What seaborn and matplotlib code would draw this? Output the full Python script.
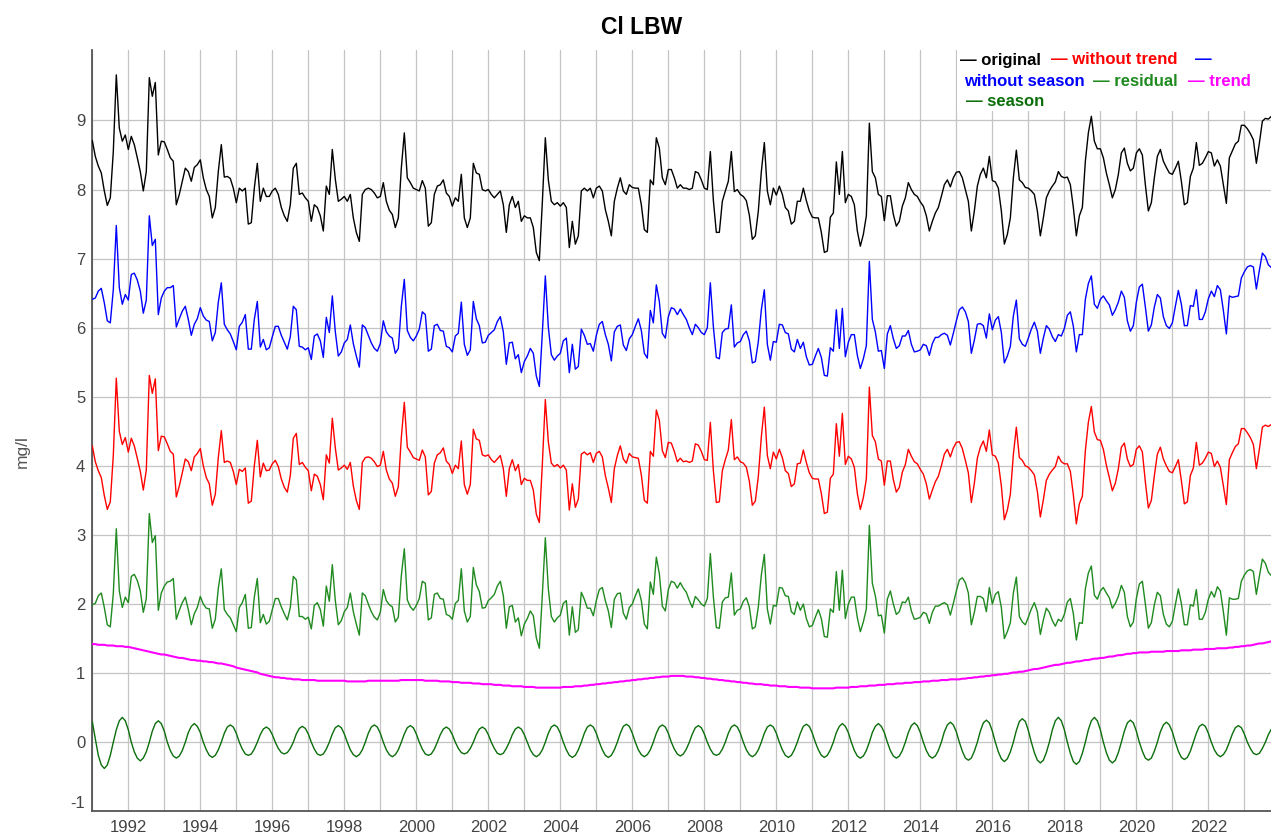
import numpy as np
import matplotlib
matplotlib.use("Agg")
import matplotlib.pyplot as plt
from matplotlib.patches import Rectangle
from matplotlib.ticker import FixedLocator, MultipleLocator
import seaborn as sns

# Monthly chloride series (mg/l), January 1991 onwards
start_year = 1991

original = [
    8.71, 8.48, 8.34, 8.24, 7.98, 7.77, 7.88, 8.55, 9.66, 8.89, 8.70, 8.79,  # 1991
    8.58, 8.77, 8.65, 8.46, 8.26, 7.98, 8.26, 9.62, 9.35, 9.55, 8.50, 8.70,  # 1992
    8.69, 8.58, 8.46, 8.41, 7.78, 7.93, 8.12, 8.31, 8.26, 8.12, 8.32, 8.36,  # 1993
    8.43, 8.17, 8.00, 7.90, 7.59, 7.74, 8.26, 8.65, 8.18, 8.19, 8.16, 8.02,  # 1994
    7.81, 8.02, 7.98, 8.02, 7.50, 7.52, 8.02, 8.38, 7.83, 8.02, 7.90, 7.90,  # 1995
    7.98, 8.02, 7.93, 7.74, 7.62, 7.54, 7.78, 8.31, 8.38, 7.93, 7.95, 7.88,  # 1996
    7.83, 7.54, 7.78, 7.74, 7.62, 7.40, 8.05, 7.93, 8.58, 8.15, 7.83, 7.86,  # 1997
    7.90, 7.83, 7.93, 7.59, 7.38, 7.25, 7.93, 8.00, 8.02, 8.00, 7.95, 7.88,  # 1998
    7.90, 8.10, 7.83, 7.70, 7.64, 7.45, 7.59, 8.31, 8.82, 8.17, 8.10, 8.02,  # 1999
    8.00, 7.98, 8.13, 8.02, 7.47, 7.52, 7.93, 8.05, 8.07, 8.14, 7.95, 7.90,  # 2000
    7.76, 7.88, 7.83, 8.22, 7.59, 7.45, 7.59, 8.38, 8.24, 8.22, 8.00, 7.98,  # 2001
    8.00, 7.93, 7.88, 7.93, 7.98, 7.78, 7.38, 7.78, 7.90, 7.74, 7.83, 7.54,  # 2002
    7.62, 7.59, 7.59, 7.45, 7.09, 6.97, 7.81, 8.75, 8.14, 7.83, 7.78, 7.81,  # 2003
    7.76, 7.81, 7.74, 7.16, 7.54, 7.21, 7.33, 7.98, 8.02, 7.98, 8.02, 7.88,  # 2004
    8.02, 8.05, 7.98, 7.71, 7.54, 7.33, 7.83, 8.02, 8.17, 7.98, 7.93, 8.07,  # 2005
    8.03, 8.02, 8.02, 7.78, 7.42, 7.38, 8.14, 8.07, 8.75, 8.60, 8.17, 8.07,  # 2006
    8.29, 8.29, 8.17, 8.02, 8.07, 8.02, 8.02, 8.00, 8.02, 8.26, 8.24, 8.14,  # 2007
    8.02, 8.00, 8.55, 7.85, 7.38, 7.38, 7.83, 7.98, 8.12, 8.55, 7.97, 8.00,  # 2008
    7.93, 7.90, 7.84, 7.63, 7.28, 7.33, 7.69, 8.26, 8.68, 7.98, 7.78, 8.02,  # 2009
    7.92, 8.05, 7.93, 7.74, 7.69, 7.50, 7.54, 7.83, 7.83, 8.02, 7.84, 7.69,  # 2010
    7.60, 7.59, 7.59, 7.38, 7.09, 7.11, 7.60, 7.66, 8.40, 7.93, 8.55, 7.81,  # 2011
    7.93, 7.90, 7.78, 7.40, 7.18, 7.35, 7.62, 8.96, 8.26, 8.17, 7.93, 7.90,  # 2012
    7.55, 7.91, 7.91, 7.64, 7.47, 7.54, 7.76, 7.88, 8.10, 8.00, 7.93, 7.90,  # 2013
    7.82, 7.76, 7.62, 7.40, 7.54, 7.66, 7.74, 7.90, 8.07, 8.14, 8.04, 8.17,  # 2014
    8.25, 8.26, 8.17, 8.00, 7.83, 7.40, 7.69, 8.05, 8.22, 8.31, 8.17, 8.48,  # 2015
    8.13, 8.11, 8.02, 7.69, 7.21, 7.35, 7.59, 8.17, 8.57, 8.14, 8.10, 8.03,  # 2016
    8.02, 7.98, 7.93, 7.69, 7.33, 7.59, 7.88, 7.98, 8.05, 8.11, 8.26, 8.19,  # 2017
    8.17, 8.18, 8.07, 7.74, 7.33, 7.62, 7.74, 8.41, 8.82, 9.06, 8.70, 8.59,  # 2018
    8.59, 8.46, 8.24, 8.07, 7.88, 8.00, 8.22, 8.53, 8.60, 8.38, 8.27, 8.31,  # 2019
    8.53, 8.59, 8.50, 8.07, 7.69, 7.81, 8.17, 8.48, 8.58, 8.41, 8.32, 8.24,  # 2020
    8.22, 8.31, 8.41, 8.12, 7.78, 7.81, 8.19, 8.31, 8.68, 8.35, 8.38, 8.46,  # 2021
    8.55, 8.53, 8.34, 8.43, 8.34, 8.07, 7.80, 8.46, 8.56, 8.66, 8.70, 8.93,  # 2022
    8.93, 8.88, 8.81, 8.72, 8.38, 8.67, 8.99, 9.03, 9.02, 9.06,              # 2023
]

# Trend component, drawn shifted down by the offset below
trend = [
    1.42, 1.42, 1.41, 1.41, 1.41, 1.40, 1.40, 1.40, 1.39, 1.39, 1.39, 1.38,
    1.38, 1.37, 1.36, 1.35, 1.34, 1.33, 1.32, 1.31, 1.30, 1.29, 1.28, 1.27,
    1.27, 1.26, 1.25, 1.24, 1.23, 1.22, 1.22, 1.21, 1.20, 1.19, 1.19, 1.18,
    1.18, 1.17, 1.17, 1.16, 1.16, 1.15, 1.14, 1.14, 1.13, 1.12, 1.11, 1.10,
    1.08, 1.07, 1.06, 1.05, 1.04, 1.03, 1.02, 1.01, 0.99, 0.98, 0.97, 0.96,
    0.95, 0.94, 0.94, 0.93, 0.93, 0.92, 0.92, 0.91, 0.91, 0.91, 0.90, 0.90,
    0.90, 0.90, 0.90, 0.89, 0.89, 0.89, 0.89, 0.89, 0.89, 0.89, 0.89, 0.89,
    0.89, 0.88, 0.88, 0.88, 0.88, 0.88, 0.88, 0.88, 0.89, 0.89, 0.89, 0.89,
    0.89, 0.89, 0.89, 0.89, 0.89, 0.89, 0.89, 0.90, 0.90, 0.90, 0.90, 0.90,
    0.90, 0.90, 0.90, 0.89, 0.89, 0.89, 0.89, 0.89, 0.88, 0.88, 0.88, 0.88,
    0.87, 0.87, 0.87, 0.86, 0.86, 0.86, 0.86, 0.85, 0.85, 0.85, 0.84, 0.84,
    0.84, 0.84, 0.83, 0.83, 0.83, 0.82, 0.82, 0.82, 0.81, 0.81, 0.81, 0.81,
    0.80, 0.80, 0.80, 0.80, 0.79, 0.79, 0.79, 0.79, 0.79, 0.79, 0.79, 0.79,
    0.79, 0.80, 0.80, 0.80, 0.80, 0.81, 0.81, 0.81, 0.82, 0.82, 0.83, 0.83,
    0.84, 0.84, 0.85, 0.85, 0.86, 0.86, 0.87, 0.87, 0.88, 0.88, 0.89, 0.89,
    0.90, 0.90, 0.91, 0.91, 0.92, 0.92, 0.93, 0.93, 0.94, 0.94, 0.95, 0.95,
    0.95, 0.96, 0.96, 0.96, 0.96, 0.96, 0.95, 0.95, 0.95, 0.94, 0.94, 0.93,
    0.93, 0.92, 0.92, 0.91, 0.91, 0.90, 0.90, 0.89, 0.89, 0.88, 0.88, 0.87,
    0.87, 0.86, 0.86, 0.85, 0.85, 0.84, 0.84, 0.84, 0.83, 0.83, 0.82, 0.82,
    0.82, 0.81, 0.81, 0.81, 0.80, 0.80, 0.80, 0.80, 0.79, 0.79, 0.79, 0.79,
    0.78, 0.78, 0.78, 0.78, 0.78, 0.78, 0.78, 0.78, 0.79, 0.79, 0.79, 0.79,
    0.79, 0.80, 0.80, 0.80, 0.81, 0.81, 0.81, 0.82, 0.82, 0.82, 0.83, 0.83,
    0.83, 0.84, 0.84, 0.84, 0.85, 0.85, 0.85, 0.86, 0.86, 0.86, 0.87, 0.87,
    0.87, 0.88, 0.88, 0.88, 0.89, 0.89, 0.89, 0.90, 0.90, 0.90, 0.91, 0.91,
    0.91, 0.91, 0.92, 0.92, 0.93, 0.93, 0.94, 0.94, 0.95, 0.95, 0.96, 0.96,
    0.97, 0.97, 0.98, 0.98, 0.99, 0.99, 1.00, 1.01, 1.01, 1.02, 1.02, 1.03,
    1.04, 1.05, 1.06, 1.06, 1.07, 1.08, 1.09, 1.10, 1.11, 1.12, 1.12, 1.13,
    1.14, 1.15, 1.15, 1.16, 1.17, 1.17, 1.18, 1.19, 1.19, 1.20, 1.21, 1.21,
    1.22, 1.22, 1.23, 1.24, 1.24, 1.25, 1.26, 1.26, 1.27, 1.28, 1.28, 1.29,
    1.29, 1.30, 1.30, 1.30, 1.30, 1.31, 1.31, 1.31, 1.31, 1.31, 1.32, 1.32,
    1.32, 1.32, 1.32, 1.33, 1.33, 1.33, 1.33, 1.34, 1.34, 1.34, 1.34, 1.35,
    1.35, 1.35, 1.35, 1.36, 1.36, 1.36, 1.36, 1.37, 1.37, 1.38, 1.38, 1.39,
    1.39, 1.40, 1.40, 1.41, 1.42, 1.43, 1.43, 1.44, 1.45, 1.46,
]

# Seasonal component
season = [
    0.30, 0.05, -0.19, -0.33, -0.38, -0.33, -0.19, 0.00, 0.18, 0.31, 0.36, 0.31,
    0.18, 0.00, -0.14, -0.23, -0.27, -0.23, -0.14, 0.00, 0.16, 0.27, 0.31, 0.27,
    0.16, 0.00, -0.12, -0.20, -0.23, -0.20, -0.12, 0.00, 0.14, 0.23, 0.27, 0.23,
    0.14, 0.00, -0.11, -0.19, -0.22, -0.19, -0.11, 0.00, 0.13, 0.22, 0.25, 0.22,
    0.13, 0.00, -0.10, -0.17, -0.19, -0.17, -0.10, 0.00, 0.11, 0.19, 0.22, 0.19,
    0.11, 0.00, -0.09, -0.15, -0.17, -0.15, -0.09, 0.00, 0.12, 0.20, 0.23, 0.20,
    0.12, 0.00, -0.10, -0.17, -0.19, -0.17, -0.10, 0.00, 0.12, 0.21, 0.24, 0.21,
    0.12, 0.00, -0.11, -0.18, -0.21, -0.18, -0.11, 0.00, 0.13, 0.22, 0.25, 0.22,
    0.13, 0.00, -0.11, -0.18, -0.21, -0.18, -0.11, 0.00, 0.12, 0.21, 0.24, 0.21,
    0.12, 0.00, -0.10, -0.17, -0.19, -0.17, -0.10, 0.00, 0.11, 0.19, 0.22, 0.19,
    0.11, 0.00, -0.09, -0.15, -0.17, -0.15, -0.09, 0.00, 0.11, 0.19, 0.22, 0.19,
    0.11, 0.00, -0.09, -0.16, -0.18, -0.16, -0.09, 0.00, 0.11, 0.19, 0.22, 0.19,
    0.11, 0.00, -0.11, -0.18, -0.21, -0.18, -0.11, 0.00, 0.13, 0.22, 0.25, 0.22,
    0.13, 0.00, -0.11, -0.19, -0.22, -0.19, -0.11, 0.00, 0.13, 0.22, 0.25, 0.22,
    0.13, 0.00, -0.11, -0.19, -0.22, -0.19, -0.11, 0.00, 0.13, 0.23, 0.26, 0.23,
    0.13, 0.00, -0.11, -0.18, -0.21, -0.18, -0.11, 0.00, 0.13, 0.22, 0.25, 0.22,
    0.13, 0.00, -0.10, -0.17, -0.20, -0.17, -0.10, 0.00, 0.12, 0.21, 0.24, 0.21,
    0.12, 0.00, -0.10, -0.17, -0.19, -0.17, -0.10, 0.00, 0.13, 0.22, 0.25, 0.22,
    0.13, 0.00, -0.11, -0.18, -0.21, -0.18, -0.11, 0.00, 0.13, 0.22, 0.25, 0.22,
    0.13, 0.00, -0.11, -0.19, -0.22, -0.19, -0.11, 0.00, 0.13, 0.23, 0.26, 0.23,
    0.13, 0.00, -0.11, -0.19, -0.22, -0.19, -0.11, 0.00, 0.14, 0.23, 0.27, 0.23,
    0.14, 0.00, -0.12, -0.20, -0.23, -0.20, -0.12, 0.00, 0.14, 0.23, 0.27, 0.23,
    0.14, 0.00, -0.12, -0.20, -0.23, -0.20, -0.12, 0.00, 0.14, 0.24, 0.28, 0.24,
    0.14, 0.00, -0.12, -0.20, -0.23, -0.20, -0.12, 0.00, 0.15, 0.25, 0.29, 0.25,
    0.15, 0.00, -0.13, -0.23, -0.26, -0.23, -0.13, 0.00, 0.16, 0.28, 0.32, 0.28,
    0.16, 0.00, -0.14, -0.24, -0.28, -0.24, -0.14, 0.00, 0.17, 0.30, 0.34, 0.30,
    0.17, 0.00, -0.15, -0.26, -0.30, -0.26, -0.15, 0.00, 0.18, 0.31, 0.36, 0.31,
    0.18, 0.00, -0.16, -0.28, -0.32, -0.28, -0.16, 0.00, 0.18, 0.31, 0.36, 0.31,
    0.18, 0.00, -0.15, -0.26, -0.30, -0.26, -0.15, 0.00, 0.16, 0.28, 0.32, 0.28,
    0.16, 0.00, -0.13, -0.23, -0.26, -0.23, -0.13, 0.00, 0.15, 0.25, 0.29, 0.25,
    0.15, 0.00, -0.13, -0.22, -0.25, -0.22, -0.13, 0.00, 0.13, 0.23, 0.26, 0.23,
    0.13, 0.00, -0.11, -0.18, -0.21, -0.18, -0.11, 0.00, 0.12, 0.21, 0.24, 0.21,
    0.12, 0.00, -0.09, -0.16, -0.18, -0.16, -0.09, 0.00, 0.11, 0.19,
]

series_names = ["original", "without trend", "without season", "residual", "trend", "season"]
series_colors = ["#000000", "#ff0000", "#0000ff", "#1f8a1f", "#ff00ff", "#0b6e0b"]

# Vertical offsets used to stack the components in one panel
TREND_SHIFT = 7.0
DETREND_SHIFT = 4.0
DESEASON_SHIFT = -2.0
RESID_SHIFT = 2.0

orig = np.asarray(original)
tr = np.asarray(trend)
se = np.asarray(season)
t = start_year + np.arange(len(orig)) / 12.0
trend_level = tr + TREND_SHIFT

values = {
    "original": orig,
    "without trend": orig - trend_level + DETREND_SHIFT,
    "without season": orig - se + DESEASON_SHIFT,
    "residual": orig - trend_level - se + RESID_SHIFT,
    "trend": tr,
    "season": se,
}

sns.set_style("white")
plt.rcParams["font.family"] = ["Liberation Sans", "DejaVu Sans"]
plt.rcParams["axes.unicode_minus"] = False

W, H = 1271, 834
AX_TOP, AX_BOTTOM, AX_LEFT = 50.0, 811.3, 92.3
fig = plt.figure(figsize=(W / 100, H / 100), dpi=100)
ax = fig.add_axes([AX_LEFT / W, 1 - AX_BOTTOM / H, 1 - AX_LEFT / W, (AX_BOTTOM - AX_TOP) / H])

for name, color in zip(series_names, series_colors):
    sns.lineplot(x=t, y=values[name], ax=ax, color=color,
                 linewidth=1.5 if name == "trend" else 1.0, legend=False, zorder=3)

ax.set_xlim(1991.0, 2023.74)
ax.set_ylim(-1.0, 10.02)
ax.xaxis.set_major_locator(FixedLocator(list(range(1992, 2023, 2))))
ax.xaxis.set_minor_locator(MultipleLocator(1))
ax.set_yticks(list(range(-1, 10)))
ax.grid(True, which="both", axis="x", color="#c4c4c4", linewidth=0.9, zorder=0)
ax.grid(True, which="major", axis="y", color="#c4c4c4", linewidth=0.9, zorder=0)
ax.set_axisbelow(True)
ax.tick_params(axis="both", which="both", length=0, labelsize=12, labelcolor="#444444")
ax.tick_params(axis="x", pad=6.5)
ax.tick_params(axis="y", pad=5)
for side in ("top", "right"):
    ax.spines[side].set_visible(False)
for side in ("left", "bottom"):
    ax.spines[side].set_color("#555555")
    ax.spines[side].set_linewidth(1.3)
ax.set_xlabel("")
ax.set_ylabel("")

fig.text(22 / W, 1 - 452 / H, "mg/l", rotation=90, color="#555555",
         fontsize=12.5, ha="center", va="center")
fig.text(642 / W, 1 - 28 / H, "Cl LBW", fontsize=16.5, fontweight="bold",
         ha="center", va="center", color="#000000")

# Legend panel in the upper right corner
fig.add_artist(Rectangle((957 / W, 1 - 111 / H), (W - 957) / W, 66 / H,
                         transform=fig.transFigure, facecolor="white",
                         edgecolor="none", zorder=5))
legend_rows = [
    [("\u2014 original", 0, 960), ("\u2014 without trend", 1, 1051), ("\u2014", 2, 1195)],
    [("without season", 2, 964), ("\u2014 residual", 3, 1093), ("\u2014 trend", 4, 1188)],
    [("\u2014 season", 5, 966)],
]
for row_y, row in zip([60, 81, 101], legend_rows):
    for label, ci, px in row:
        fig.text(px / W, 1 - row_y / H, label, color=series_colors[ci],
                 fontsize=12, fontweight="bold", ha="left", va="center", zorder=6)

fig.canvas.draw()
for tick in ax.yaxis.get_major_ticks():
    if abs(tick.get_loc() + 1.0) < 1e-9:
        tick.label1.set_verticalalignment("bottom")

fig.savefig("out.png", dpi=100)
